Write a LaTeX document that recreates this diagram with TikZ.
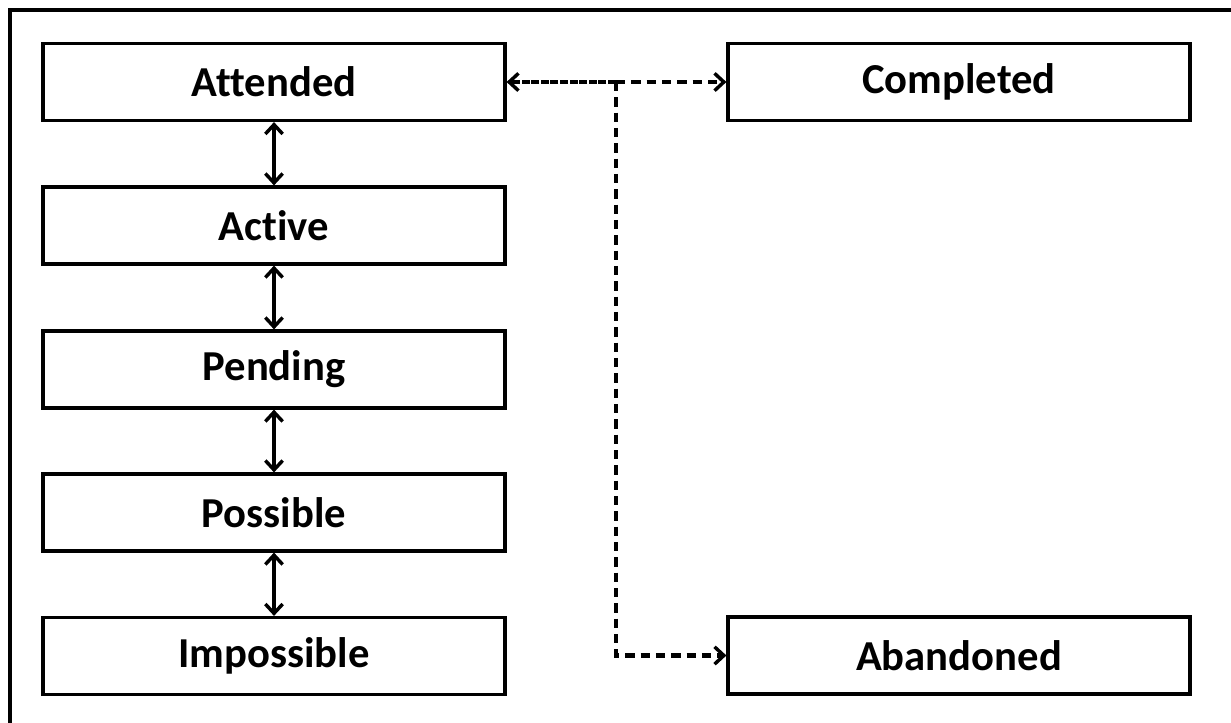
\documentclass[tikz,border=0pt]{standalone}
\usepackage{fontspec}
\setmainfont{Carlito}[Ligatures={NoCommon}]
\usetikzlibrary{arrows.meta}
\begin{document}
\begin{tikzpicture}[x=0.75pt,y=-0.75pt,
  state/.style={draw,line width=2.4pt,minimum width=346.5pt,minimum height=57.75pt,inner sep=0pt,
    font=\fontsize{32}{36}\selectfont\bfseries},
  link/.style={draw,line width=3.2pt},
  conn/.style={link,-{Straight Barb[length=7pt,width=13pt,line width=2.6pt]}},
  biconn/.style={link,{Straight Barb[length=7pt,width=13pt,line width=2.6pt]}-{Straight Barb[length=7pt,width=13pt,line width=2.6pt]}},
  dconn/.style={conn,dash pattern=on 7pt off 4.5pt},
]
\useasboundingbox (0,0) rectangle (1231,723);
\draw[line width=2.4pt] (10,723) -- (10,10) -- (1231,10);
\node[state] (att) at (274,82) {Attended};
\node[state] (act) at (274,225.5) {Active};
\node[state] (pen) at (274,369.5) {Pending};
\node[state] (pos) at (274,512.5) {Possible};
\node[state] (imp) at (274,656) {Impossible};
\node[state] (com) at (959,82) {Completed};
\node[state] (aba) at (959,655.5) {Abandoned};
\path[biconn] (att.south) -- (act.north);
\path[biconn] (act.south) -- (pen.north);
\path[biconn] (pen.south) -- (pos.north);
\path[biconn] (pos.south) -- (imp.north);
\coordinate (j) at (616,82);
\path[conn,dash pattern=on 6pt off 1.2pt] (j) -- (att.east);
\path[dconn] (j) -- (com.west);
\path[dconn] (j) |- (aba.west);
\end{tikzpicture}
\end{document}
